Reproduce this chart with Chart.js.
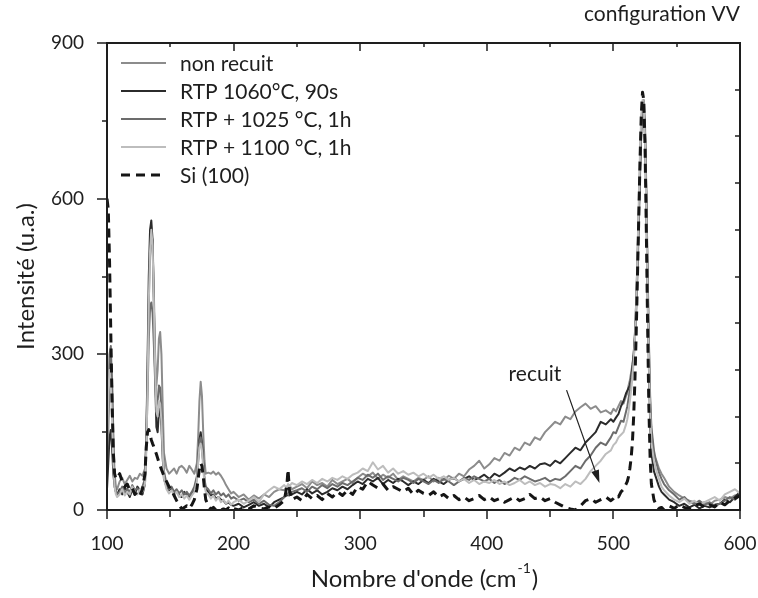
<!DOCTYPE html>
<html>
<head>
<meta charset="utf-8">
<script src="https://cdn.jsdelivr.net/npm/chart.js@4.4.1/dist/chart.umd.min.js"></script>
<style>
html, body { margin: 0; padding: 0; background: #fff; }
canvas { display: block; }
</style>
</head>
<body>
<canvas id="myChart" width="758" height="598"></canvas>
<script>
// wave numbers (cm-1), shared by all spectra
var waveNumbers = [
  100,101,102,103,104,105,106,107,108,
  110,112,114,116,118,120,122,124,126,128,130,
  131,132,133,134,135,136,137,138,139,140,141,142,143,144,145,
  147,149,151,153,155,157,159,161,163,165,167,169,
  171,172,173,174,175,176,177,178,
  180,182,184,186,188,190,192,194,196,198,
  200,204,208,212,216,220,224,228,232,236,
  240,242,243,244,246,
  250,254,258,262,266,270,274,278,282,286,290,294,298,
  302,306,310,314,318,322,326,330,334,338,342,346,350,
  354,358,362,366,370,374,378,382,386,390,394,398,
  402,406,410,414,418,422,426,430,434,438,442,446,450,
  454,458,462,466,470,474,478,482,486,490,494,498,
  500,502,504,506,508,510,
  511,512,513,514,515,516,517,518,519,520,521,522,523,524,525,526,527,528,529,530,
  532,534,536,538,540,
  544,548,552,556,560,564,568,572,576,580,584,588,592,596,600
];

var nonRecuit = [
  60,150,240,290,250,150,70,45,40,
  55,62,50,58,66,55,62,60,70,66,80,
  140,250,400,490,530,520,420,300,240,270,330,343,300,200,110,
  80,70,75,80,70,82,85,80,72,85,78,70,
  90,140,210,247,220,150,95,70,
  72,70,74,68,72,66,58,48,40,32,
  35,25,30,20,28,22,30,25,35,40,
  38,45,42,48,40,
  45,50,42,55,48,52,45,58,50,55,60,52,62,
  70,65,72,60,68,62,70,58,65,60,55,62,58,
  65,55,62,58,66,60,70,65,78,85,95,80,
  88,100,95,110,105,120,115,130,125,140,135,150,160,
  170,165,180,175,190,198,205,195,200,188,192,185,
  195,190,200,210,205,220,
  225,240,250,265,280,300,330,380,450,540,640,730,780,790,740,620,460,320,210,150,
  105,95,80,70,62,
  45,35,28,22,18,15,12,15,10,18,20,25,22,28,30
];

var rtp1060 = [
  40,90,140,154,120,70,45,35,30,
  40,30,45,35,25,40,30,45,38,30,50,
  130,280,450,540,558,520,400,260,160,150,190,200,160,100,60,
  45,38,42,30,35,28,25,35,30,25,30,40,
  60,95,135,150,130,90,55,40,
  35,28,30,22,25,20,18,12,15,10,
  8,12,5,10,15,8,12,5,15,20,
  25,30,28,35,30,
  35,30,40,32,38,30,35,42,38,45,40,48,55,
  50,60,55,62,50,58,52,60,55,48,55,50,58,
  52,60,55,50,58,62,55,60,65,58,62,68,
  60,70,65,72,80,75,82,78,85,80,88,90,85,
  95,90,100,110,120,115,130,140,150,170,165,175,
  170,178,185,200,210,225,
  230,235,240,255,275,300,340,400,480,570,660,740,785,780,720,590,420,280,170,110,
  75,60,45,35,30,
  20,15,8,12,5,10,3,8,5,10,12,20,15,25,35
];

var rtp1025 = [
  80,200,300,316,240,120,55,35,30,
  35,45,30,40,35,48,38,42,35,45,60,
  120,220,330,390,400,380,320,250,200,210,240,235,190,130,75,
  50,40,45,35,40,32,38,30,35,28,35,45,
  65,100,130,140,125,90,60,45,
  40,32,38,30,35,28,32,25,30,22,
  25,18,22,15,20,12,18,10,8,15,
  25,30,32,28,35,
  38,42,35,45,40,48,42,50,45,52,48,55,62,
  58,68,62,70,58,65,60,55,62,58,52,60,55,
  50,58,52,60,55,48,55,62,58,65,60,55,
  60,52,58,50,55,62,58,65,60,55,58,62,55,
  60,58,65,75,85,80,95,105,120,130,125,140,
  150,148,160,172,170,190,
  200,215,230,245,265,290,330,390,470,560,650,730,775,770,720,610,460,330,220,160,
  115,90,72,60,50,
  38,30,20,25,15,12,18,10,15,8,12,18,25,20,28
];

var rtp1100 = [
  120,220,270,240,170,90,45,30,25,
  30,40,28,35,30,45,35,30,40,35,50,
  110,230,400,500,540,510,400,280,190,180,210,205,170,110,60,
  40,32,38,28,35,25,30,22,28,20,28,35,
  55,90,120,128,115,80,50,35,
  30,22,28,18,25,15,20,12,18,10,
  15,20,12,18,25,15,30,38,45,40,
  48,42,50,45,52,
  48,55,50,58,52,60,55,62,58,65,60,68,72,
  80,75,92,78,85,72,80,70,75,68,72,65,70,
  62,68,60,65,58,62,55,60,52,58,50,55,
  52,58,50,55,48,52,58,50,55,48,52,45,50,
  48,42,50,45,55,50,60,75,85,95,108,115,
  125,130,140,145,150,165,
  175,190,210,230,255,285,330,400,490,590,690,760,790,780,710,580,420,290,190,130,
  95,75,60,45,38,
  28,20,15,22,12,18,10,15,20,25,18,30,35,40,32
];

var si100 = [
  600,580,480,340,210,110,70,60,62,
  70,55,45,50,38,42,30,35,28,40,70,
  120,150,155,145,135,128,122,115,108,100,92,85,78,72,65,
  55,45,38,28,18,10,2,5,8,3,10,20,
  40,60,80,90,85,65,40,20,
  8,2,5,0,3,0,2,0,4,0,
  3,0,5,2,8,4,2,6,3,10,
  18,45,78,40,20,
  25,18,30,22,28,20,32,25,35,28,38,30,45,
  40,55,48,42,50,38,45,40,35,42,30,38,32,
  28,35,25,30,22,28,20,25,18,22,28,20,
  25,18,22,15,20,25,18,22,30,22,25,18,22,
  15,10,5,2,0,8,18,22,15,20,25,18,
  22,28,25,35,40,50,
  55,65,80,100,130,180,250,340,450,560,670,760,805,790,700,540,360,200,100,50,
  20,8,3,5,0,
  8,3,10,5,2,8,12,5,10,6,15,10,18,22,28
];

var seriesNames = ['non recuit', 'RTP 1060\u00b0C, 90s', 'RTP + 1025 \u00b0C, 1h', 'RTP + 1100 \u00b0C, 1h', 'Si (100)'];

// axis ticks
var xMajorTicks = [100, 200, 300, 400, 500, 600];
var xMinorTicks = [150, 250, 350, 450, 550];
var yMajorTicks = [0, 300, 600, 900];
var yMinorTicks = [150, 450, 750];
var rightTicks = [90, 180, 270, 360, 450, 540, 630, 720, 810];

// annotation "recuit" (wave number, intensity)
var recuitText = [438, 262];
var arrowFrom = [463, 231];
var arrowTo = [489, 52];

var FONT = "Lato, 'DejaVu Sans', sans-serif";
var INK = '#1e1e1e';

function toPoints(ys) {
  var pts = [];
  for (var i = 0; i < waveNumbers.length; i++) {
    pts.push({ x: waveNumbers[i], y: ys[i] });
  }
  return pts;
}

var framePlugin = {
  id: 'frame',
  afterDraw: function(chart) {
    var ctx = chart.ctx;
    var a = chart.chartArea;
    var xs = chart.scales.x, ys = chart.scales.y;
    ctx.save();

    // box
    ctx.strokeStyle = INK;
    ctx.lineWidth = 2;
    ctx.setLineDash([]);
    ctx.strokeRect(a.left, a.top, a.right - a.left, a.bottom - a.top);

    // ticks
    ctx.lineWidth = 1.5;
    ctx.beginPath();
    xMajorTicks.forEach(function(v) {
      var px = Math.round(xs.getPixelForValue(v));
      ctx.moveTo(px, a.bottom); ctx.lineTo(px, a.bottom + 9);
      ctx.moveTo(px, a.top); ctx.lineTo(px, a.top + 8);
    });
    xMinorTicks.forEach(function(v) {
      var px = Math.round(xs.getPixelForValue(v));
      ctx.moveTo(px, a.bottom); ctx.lineTo(px, a.bottom + 7);
      ctx.moveTo(px, a.top); ctx.lineTo(px, a.top + 4);
    });
    yMajorTicks.forEach(function(v) {
      var py = Math.round(ys.getPixelForValue(v));
      ctx.moveTo(a.left, py); ctx.lineTo(a.left - 10, py);
    });
    yMinorTicks.forEach(function(v) {
      var py = Math.round(ys.getPixelForValue(v));
      ctx.moveTo(a.left, py); ctx.lineTo(a.left - 5, py);
    });
    rightTicks.forEach(function(v) {
      var py = Math.round(ys.getPixelForValue(v));
      ctx.moveTo(a.right, py); ctx.lineTo(a.right - 5, py);
    });
    ctx.stroke();

    // legend
    var rowY = [63, 91, 119, 147, 175];
    ctx.font = '21px ' + FONT;
    ctx.textBaseline = 'middle';
    ctx.textAlign = 'left';
    chart.data.datasets.forEach(function(ds, i) {
      ctx.strokeStyle = ds.borderColor;
      ctx.lineWidth = ds.borderWidth;
      ctx.setLineDash(ds.borderDash || []);
      ctx.beginPath();
      ctx.moveTo(121, rowY[i]);
      ctx.lineTo(166, rowY[i]);
      ctx.stroke();
      ctx.fillStyle = INK;
      ctx.fillText(ds.label, 180, rowY[i] + 1);
    });
    ctx.setLineDash([]);

    // recuit annotation
    ctx.fillStyle = INK;
    ctx.textAlign = 'center';
    ctx.font = '21px ' + FONT;
    ctx.fillText('recuit', xs.getPixelForValue(recuitText[0]), ys.getPixelForValue(recuitText[1]));
    var x0 = xs.getPixelForValue(arrowFrom[0]), y0 = ys.getPixelForValue(arrowFrom[1]);
    var x1 = xs.getPixelForValue(arrowTo[0]), y1 = ys.getPixelForValue(arrowTo[1]);
    var ang = Math.atan2(y1 - y0, x1 - x0);
    ctx.strokeStyle = INK;
    ctx.lineWidth = 1.2;
    ctx.beginPath();
    ctx.moveTo(x0, y0);
    ctx.lineTo(x1 - 10 * Math.cos(ang), y1 - 10 * Math.sin(ang));
    ctx.stroke();
    ctx.beginPath();
    ctx.moveTo(x1, y1);
    ctx.lineTo(x1 - 13 * Math.cos(ang) + 4 * Math.sin(ang), y1 - 13 * Math.sin(ang) - 4 * Math.cos(ang));
    ctx.lineTo(x1 - 13 * Math.cos(ang) - 4 * Math.sin(ang), y1 - 13 * Math.sin(ang) + 4 * Math.cos(ang));
    ctx.closePath();
    ctx.fill();

    // x axis title with superscript
    var base = 'Nombre d\'onde (cm', sup = '-1', tail = ')';
    ctx.font = '24px ' + FONT;
    var w1 = ctx.measureText(base).width, w3 = ctx.measureText(tail).width;
    ctx.font = '14px ' + FONT;
    var w2 = ctx.measureText(sup).width;
    var cx = (a.left + a.right) / 2;
    var sx = cx - (w1 + w2 + w3) / 2;
    ctx.textAlign = 'left';
    ctx.textBaseline = 'alphabetic';
    ctx.font = '24px ' + FONT;
    ctx.fillText(base, sx, 587);
    ctx.font = '14px ' + FONT;
    ctx.fillText(sup, sx + w1 + 1, 573);
    ctx.font = '24px ' + FONT;
    ctx.fillText(tail, sx + w1 + w2 + 2, 587);

    // y axis title
    ctx.save();
    ctx.translate(26, (a.top + a.bottom) / 2);
    ctx.rotate(-Math.PI / 2);
    ctx.textAlign = 'center';
    ctx.textBaseline = 'middle';
    ctx.font = '24px ' + FONT;
    ctx.fillText('Intensit\u00e9 (u.a.)', 0, 0);
    ctx.restore();

    // corner label
    ctx.font = '21px ' + FONT;
    ctx.textAlign = 'right';
    ctx.textBaseline = 'alphabetic';
    ctx.fillText('configuration VV', a.right, 21);
    ctx.restore();
  }
};

var colors = ['#8c8c8c', '#2b2b2b', '#6c6c6c', '#bdbdbd', '#151515'];
var seriesValues = [nonRecuit, rtp1060, rtp1025, rtp1100, si100];
var datasets = [];
for (var k = 0; k < seriesValues.length; k++) {
  datasets.push({
    label: seriesNames[k],
    data: toPoints(seriesValues[k]),
    borderColor: colors[k],
    backgroundColor: colors[k],
    borderWidth: k === 4 ? 3 : 2,
    borderDash: k === 4 ? [9, 6] : [],
    borderJoinStyle: 'round',
    pointRadius: 0,
    tension: 0,
    fill: false,
    order: k === 4 ? 0 : 5 - k
  });
}

var ctx = document.getElementById('myChart').getContext('2d');
var spectraChart = new Chart(ctx, {
  type: 'line',
  data: { datasets: datasets },
  options: {
    responsive: false,
    animation: false,
    devicePixelRatio: 1,
    layout: { padding: { top: 43, right: 18, left: 0, bottom: 0 } },
    plugins: { legend: { display: false }, tooltip: { enabled: false } },
    scales: {
      x: {
        type: 'linear',
        min: 100,
        max: 600,
        grid: { display: false },
        border: { display: false },
        ticks: { stepSize: 100, padding: 14, color: INK, font: { family: FONT, size: 19 } },
        afterFit: function(s) { s.height = 88; s.paddingRight = 0; }
      },
      y: {
        min: 0,
        max: 900,
        grid: { display: false },
        border: { display: false },
        ticks: { stepSize: 300, padding: 15, color: INK, font: { family: FONT, size: 19 } },
        afterFit: function(s) { s.width = 107; }
      }
    }
  },
  plugins: [framePlugin]
});
</script>
</body>
</html>
